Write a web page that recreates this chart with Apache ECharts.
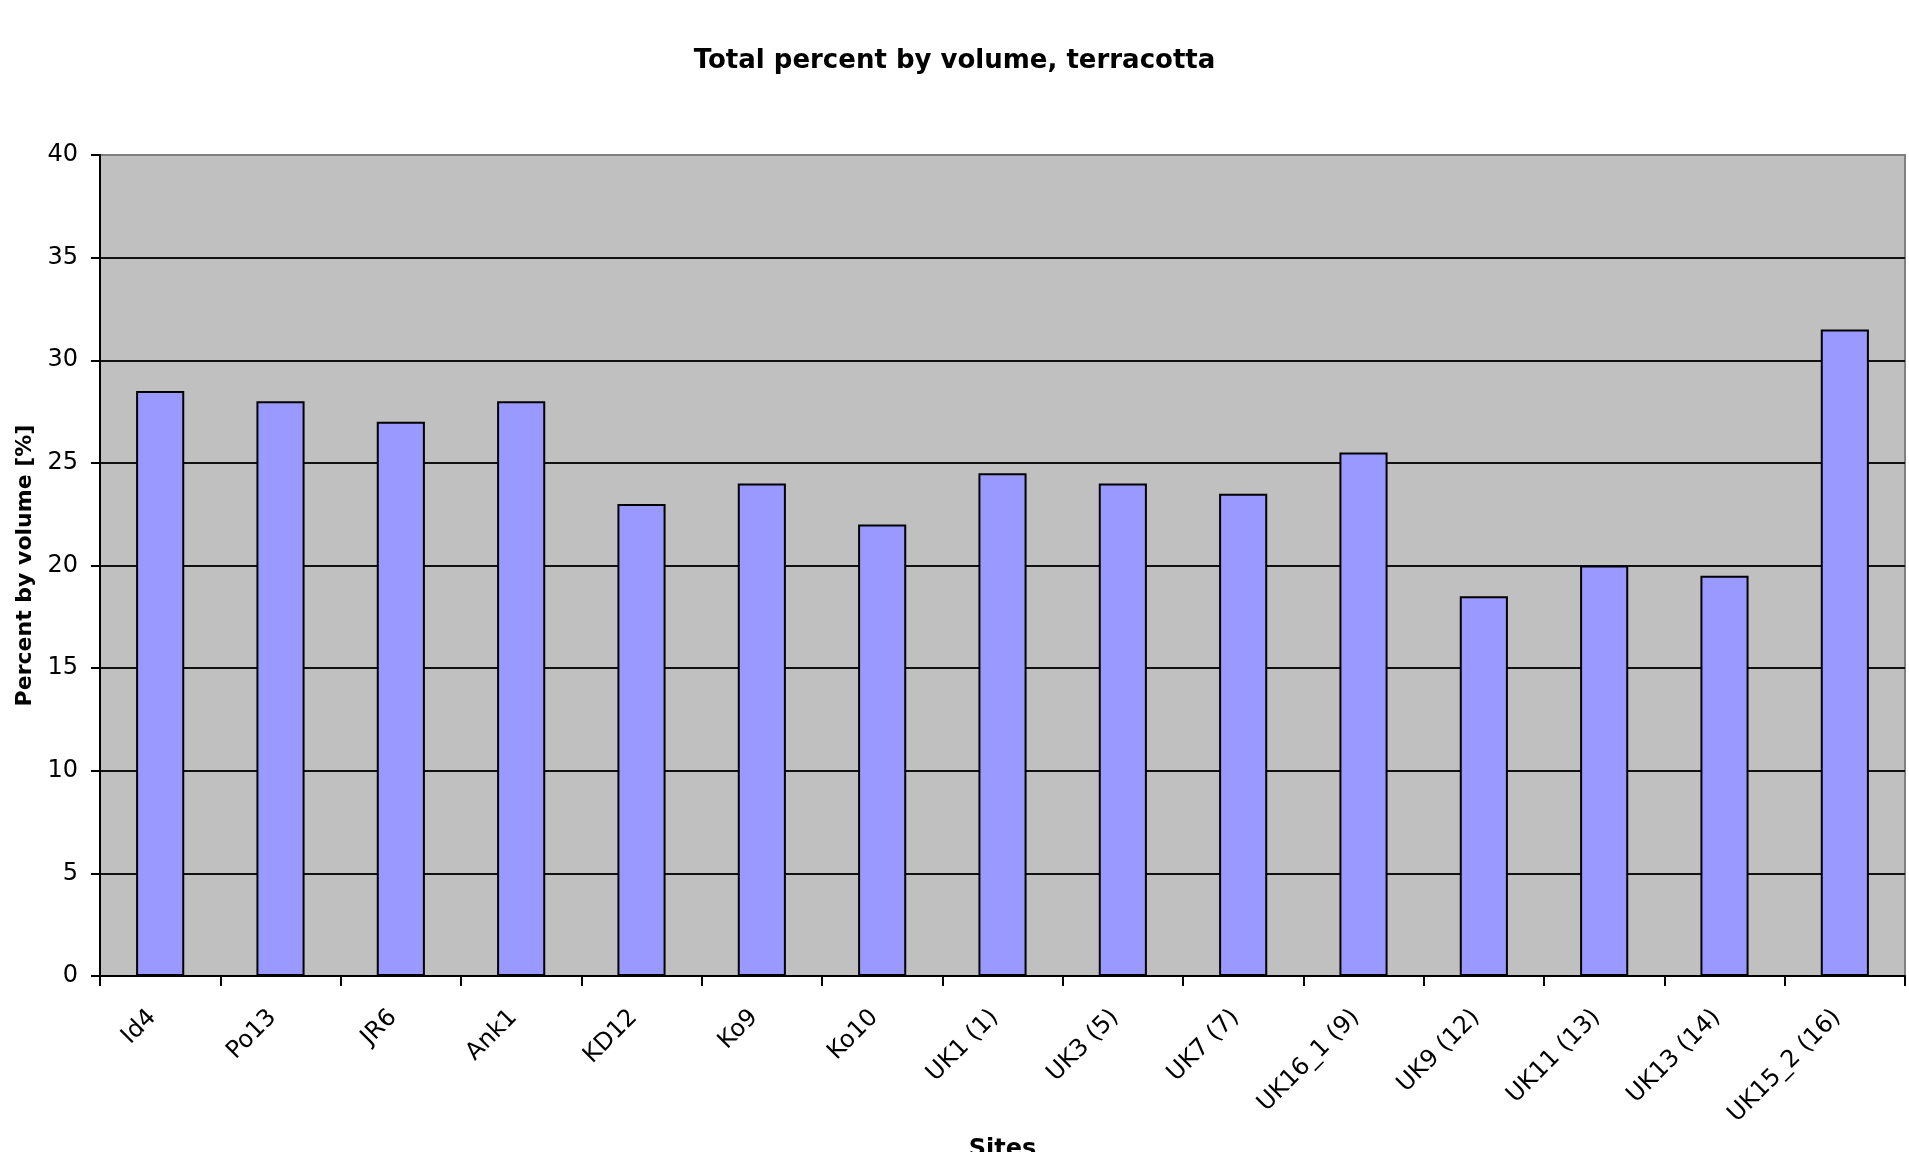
<!DOCTYPE html>
<html>
<head>
<meta charset="utf-8">
<title>Total percent by volume, terracotta</title>
<script src="https://cdn.jsdelivr.net/npm/echarts@6/dist/echarts.min.js"></script>
<style>
  html, body { margin: 0; padding: 0; background: #ffffff; }
  #chart { width: 1909px; height: 1152px; }
</style>
</head>
<body>
<div id="chart"></div>
<script>
// Sampling sites and their total porosity (percent by volume) for terracotta
const sites = [
  'Id4', 'Po13', 'JR6', 'Ank1', 'KD12', 'Ko9', 'Ko10',
  'UK1 (1)', 'UK3 (5)', 'UK7 (7)', 'UK16_1 (9)', 'UK9 (12)',
  'UK11 (13)', 'UK13 (14)', 'UK15_2 (16)'
];
const percentByVolume = [
  28.5, 28, 27, 28, 23, 24, 22,
  24.5, 24, 23.5, 25.5, 18.5,
  20, 19.5, 31.5
];
const yMin = 0;
const yMax = 40;
const yStep = 5;

const FONT = '"DejaVu Sans", "Liberation Sans", Arial, sans-serif';

const chart = echarts.init(document.getElementById('chart'), null, { renderer: 'canvas' });

chart.setOption({
  backgroundColor: '#ffffff',
  animation: false,
  title: {
    text: 'Total percent by volume, terracotta',
    left: 'center',
    top: 43,
    textStyle: { fontFamily: FONT, fontSize: 26, fontWeight: 'bold', color: '#000000' }
  },
  grid: {
    left: 100,
    right: 4,
    top: 155,
    bottom: 176,
    outerBoundsMode: 'none',
    containLabel: false,
    show: true,
    backgroundColor: '#c0c0c0',
    borderColor: '#808080',
    borderWidth: 2
  },
  xAxis: {
    type: 'category',
    data: sites,
    name: 'Sites',
    nameLocation: 'middle',
    nameGap: 162,
    nameTextStyle: {
      fontFamily: FONT, fontSize: 24, fontWeight: 'bold', color: '#000000',
      verticalAlign: 'top'
    },
    axisLine: { show: true, lineStyle: { color: '#000000', width: 2 } },
    axisTick: { show: true, length: 10, lineStyle: { color: '#000000', width: 2 } },
    axisLabel: {
      rotate: 45,
      margin: 30,
      padding: [0, 11, 0, 0],
      interval: 0,
      fontFamily: FONT,
      fontSize: 24,
      color: '#000000'
    },
    splitLine: { show: false }
  },
  yAxis: {
    type: 'value',
    min: yMin,
    max: yMax,
    interval: yStep,
    name: 'Percent by volume [%]',
    nameLocation: 'middle',
    nameGap: 62,
    nameTextStyle: { fontFamily: FONT, fontSize: 22, fontWeight: 'bold', color: '#000000' },
    axisLine: { show: true, lineStyle: { color: '#000000', width: 2 } },
    axisTick: { show: true, length: 9, lineStyle: { color: '#000000', width: 2 } },
    axisLabel: { margin: 22, fontFamily: FONT, fontSize: 24, color: '#000000' },
    splitLine: { show: true, showMaxLine: false, lineStyle: { color: '#111111', width: 2 } }
  },
  series: [{
    type: 'bar',
    data: percentByVolume,
    barWidth: '40%',
    itemStyle: { color: '#9999ff', borderColor: '#000000', borderWidth: 2 }
  }]
});
</script>
</body>
</html>
